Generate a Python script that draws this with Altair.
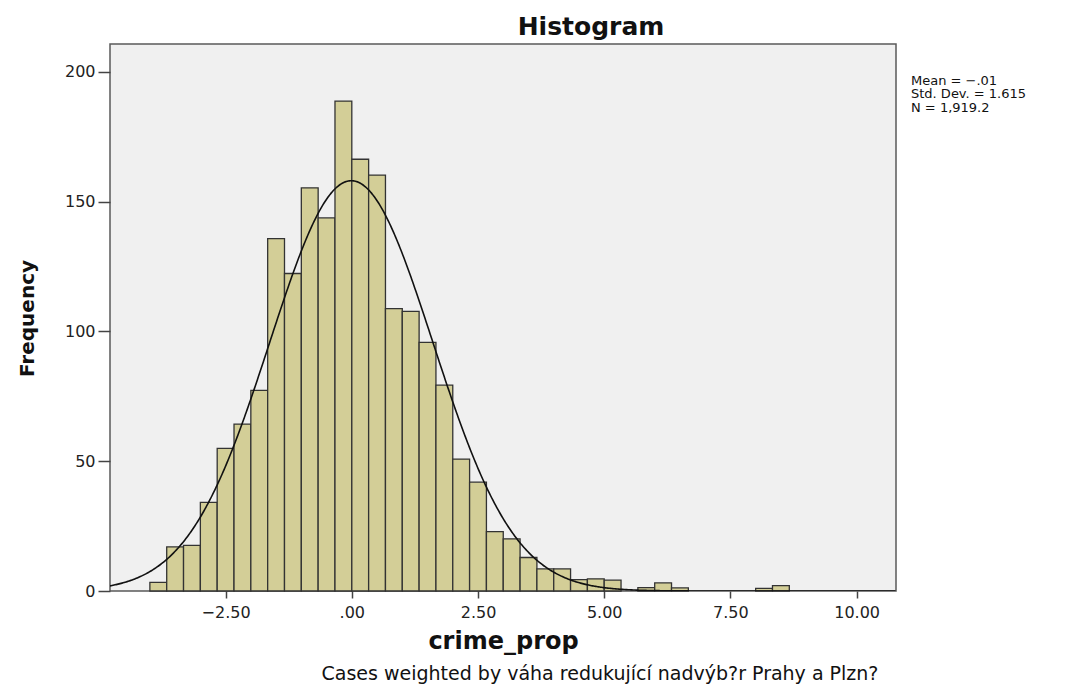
import altair as alt
import pandas as pd

# ---- data ----
first_edge = -4.0          # lower edge of first bin
bin_width = 1 / 3          # bin width
frequencies = [3.3, 17.0, 17.6, 34.1, 54.9, 64.3, 77.3, 135.7, 122.3, 155.3,
               143.7, 188.7, 166.3, 160.2, 108.8, 107.7, 95.8, 79.3, 50.8, 41.9,
               22.9, 20.1, 12.9, 8.5, 8.5, 4.4, 4.7, 4.2, 0.0, 1.3,
               3.1, 1.2, 0.0, 0.0, 0.0, 0.0, 1.0, 2.1]
mean_value = -0.01
std_dev = 1.615
n_cases = 1919.2

x_ticks = [-2.5, 0, 2.5, 5, 7.5, 10]
y_ticks = [0, 50, 100, 150, 200]
stats_lines = ["Mean = \u2212.01", "Std. Dev. = 1.615", "N = 1,919.2"]
chart_title = "Histogram"
x_title = "crime_prop"
y_title = "Frequency"
footer = "Cases weighted by v\u00e1ha redukuj\u00edc\u00ed nadv\u00fdb?r Prahy a Plzn?"

x_domain = [-4.79, 10.78]
y_domain = [0, 210.7]

df = pd.DataFrame({
    "lower": [first_edge + i * bin_width for i in range(len(frequencies))],
    "freq": frequencies,
})
df["upper"] = df["lower"] + bin_width

FONT = "DejaVu Sans"
W, H = 786, 547

xs = alt.Scale(domain=x_domain, nice=False, zero=False)
ys = alt.Scale(domain=y_domain, nice=False, zero=False)

x_axis = alt.Axis(
    values=x_ticks, title=x_title, tickSize=7, labelPadding=6,
    labelExpr="datum.value == 0 ? '.00' : (datum.value < 0 ? '\u2212' : '') + format(abs(datum.value), '.2f')",
    titleX=W / 2, titleY=57.6, titleBaseline="alphabetic", titleAlign="center",
    titleFontSize=24, titleFontWeight="bold",
)
y_axis = alt.Axis(
    values=y_ticks, title=y_title, tickSize=12, labelPadding=3, format="d",
    titleX=-76.5, titleY=274, titleAngle=270, titleBaseline="alphabetic",
    titleAlign="center", titleFontSize=20, titleFontWeight="bold",
)

bars = alt.Chart(df).transform_filter("datum.freq > 0").mark_bar(
    fill="#D3CE97", stroke="#333333", strokeWidth=1.3
).encode(
    x=alt.X("lower:Q", scale=xs, axis=x_axis),
    x2="upper:Q",
    y=alt.Y("freq:Q", scale=ys, axis=y_axis),
    y2=alt.datum(0),
)

density = (f"{n_cases}*{bin_width}*exp(-0.5*pow((datum.x-({mean_value}))/{std_dev},2))"
           f"/({std_dev}*sqrt(2*PI))")
curve = alt.Chart(alt.sequence(x_domain[0], x_domain[1], 0.02, as_="x")).transform_calculate(
    dens=density
).mark_line(color="#111111", strokeWidth=1.6, clip=True).encode(
    x=alt.X("x:Q", scale=xs),
    y=alt.Y("dens:Q", scale=ys),
)

title_mark = alt.Chart(pd.DataFrame({"t": [chart_title]})).mark_text(
    font=FONT, fontSize=25, fontWeight="bold", align="center", baseline="alphabetic", color="#111"
).encode(text="t:N", x=alt.value(481), y=alt.value(-9.4))

stats_mark = alt.Chart(pd.DataFrame({"t": [0]})).mark_text(
    font=FONT, fontSize=13, align="left", baseline="alphabetic", lineHeight=13.5, color="#111"
).encode(text=alt.value(stats_lines), x=alt.value(801), y=alt.value(40.5))

footer_mark = alt.Chart(pd.DataFrame({"t": [footer]})).mark_text(
    font=FONT, fontSize=19, align="center", baseline="alphabetic", color="#111"
).encode(text="t:N", x=alt.value(490), y=alt.value(635.5))

chart = alt.layer(bars, curve, title_mark, stats_mark, footer_mark).properties(
    width=W, height=H,
    padding={"left": 102, "top": 36, "right": 185, "bottom": 94},
    autosize=alt.AutoSizeParams(type="none"),
).configure_view(
    fill="#F0F0F0", stroke="#5a5a5a", strokeWidth=1.5
).configure_axis(
    domain=False, grid=False, labelFont=FONT, titleFont=FONT, labelFontSize=16,
    labelColor="#222", titleColor="#111", tickColor="#444", tickWidth=1.5,
)

chart.save("out.html", embed_options={"renderer": "svg", "actions": False})
